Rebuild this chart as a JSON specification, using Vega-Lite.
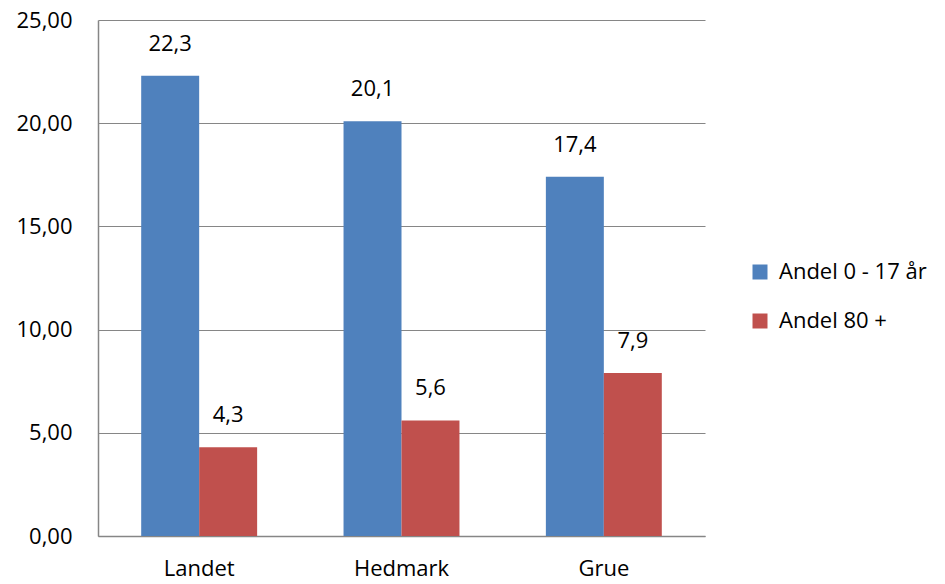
{
  "$schema": "https://vega.github.io/schema/vega-lite/v6.json",
  "width": 607,
  "height": 516,
  "autosize": {"type": "none"},
  "padding": {"left": 98, "top": 20, "right": 240, "bottom": 48},
  "background": "white",
  "config": {
    "locale": {
      "number": {"decimal": ",", "thousands": " ", "grouping": [3], "currency": ["", " kr"]}
    },
    "font": "Open Sans",
    "view": {"stroke": null}
  },
  "data": {
    "values": [
      {"omrade": "Landet", "serie": "Andel 0 - 17 år", "andel": 22.3},
      {"omrade": "Landet", "serie": "Andel 80 +", "andel": 4.3},
      {"omrade": "Hedmark", "serie": "Andel 0 - 17 år", "andel": 20.1},
      {"omrade": "Hedmark", "serie": "Andel 80 +", "andel": 5.6},
      {"omrade": "Grue", "serie": "Andel 0 - 17 år", "andel": 17.4},
      {"omrade": "Grue", "serie": "Andel 80 +", "andel": 7.9}
    ]
  },
  "encoding": {
    "x": {
      "field": "omrade",
      "type": "nominal",
      "sort": ["Landet", "Hedmark", "Grue"],
      "scale": {"paddingInner": 0.427, "paddingOuter": 0.2135},
      "axis": {
        "title": null,
        "labelAngle": 0,
        "ticks": false,
        "domainColor": "#868686",
        "domainWidth": 1.5,
        "labelFontSize": 22,
        "labelColor": "#000000",
        "labelPadding": 22,
        "grid": false
      }
    },
    "xOffset": {
      "field": "serie",
      "type": "nominal",
      "sort": ["Andel 0 - 17 år", "Andel 80 +"],
      "scale": {"paddingInner": 0, "paddingOuter": 0}
    },
    "y": {
      "field": "andel",
      "type": "quantitative",
      "scale": {"domain": [0, 25], "nice": false},
      "axis": {
        "title": null,
        "values": [0, 5, 10, 15, 20, 25],
        "format": ".2f",
        "ticks": false,
        "domainColor": "#868686",
        "domainWidth": 1.5,
        "gridColor": "#868686",
        "gridWidth": 1.2,
        "labelFontSize": 22,
        "labelColor": "#000000",
        "labelPadding": 26
      }
    }
  },
  "layer": [
    {
      "mark": {"type": "bar"},
      "encoding": {
        "color": {
          "field": "serie",
          "type": "nominal",
          "sort": ["Andel 0 - 17 år", "Andel 80 +"],
          "scale": {"domain": ["Andel 0 - 17 år", "Andel 80 +"], "range": ["#4F81BD", "#C0504D"]},
          "legend": {
            "title": null,
            "orient": "none",
            "legendX": 651,
            "legendY": 241,
            "padding": 0,
            "symbolType": "square",
            "symbolSize": 225,
            "symbolStrokeWidth": 0,
            "symbolOpacity": 1,
            "labelFontSize": 22,
            "labelColor": "#000000",
            "labelOffset": 8,
            "rowPadding": 27
          }
        }
      }
    },
    {
      "mark": {"type": "text", "baseline": "middle", "dy": -32, "fontSize": 22, "color": "#000000"},
      "encoding": {
        "text": {"field": "andel", "type": "quantitative", "format": ".1f"}
      }
    }
  ]
}
